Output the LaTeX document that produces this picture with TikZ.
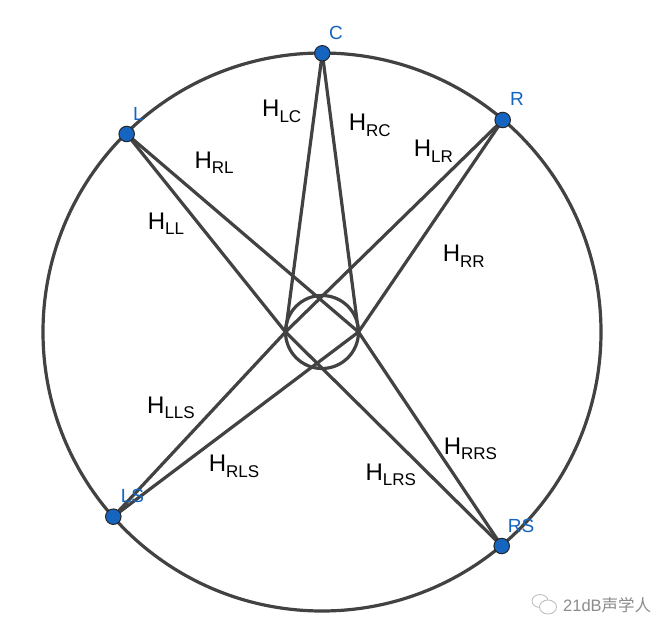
\documentclass[tikz,border=0pt]{standalone}
\usepackage{fontspec}
\setmainfont{Liberation Sans}
\newfontfamily\cjk{Noto Sans CJK SC}
\definecolor{ln}{RGB}{66,66,66}
\definecolor{ptc}{RGB}{21,101,192}
\definecolor{wm}{RGB}{140,140,140}
\pgfdeclarelayer{bg}
\pgfsetlayers{bg,main}
\newcommand\Hsub[1]{H\raisebox{-5.5pt}{\fontsize{17}{17}\selectfont #1}}
\begin{document}
\begin{tikzpicture}[x=1pt,y=-1pt,
  spk/.style={circle,fill=ptc,draw=black!85,line width=1pt,minimum size=15.5pt,inner sep=0pt},
  lab/.style={text=ptc,font=\fontsize{19}{19}\selectfont,anchor=base west,inner sep=0pt},
  hlab/.style={anchor=base west,inner sep=0pt,font=\fontsize{24}{24}\selectfont},
  wire/.style={draw=ln,line width=3.2pt}]
\useasboundingbox (0,0) rectangle (672,636);
\begin{pgfonlayer}{bg}
\fill[white] (0,0) rectangle (672,636);
\end{pgfonlayer}
\coordinate (O) at (322,332);
\coordinate (EL) at (285.5,332);
\coordinate (ER) at (358.5,332);
\node[spk] (C) at (322.3,53.3) {};
\node[spk] (L) at (126.7,134) {};
\node[spk] (R) at (502.7,120) {};
\node[spk] (LS) at (113.3,516.7) {};
\node[spk] (RS) at (501.7,546) {};
\begin{pgfonlayer}{bg}
\draw[wire] (O) circle[radius=279];
\draw[wire] (O) circle[radius=36.5];
\foreach \s in {C,L,R,LS,RS}{
  \draw[wire] (\s.center) -- (EL);
  \draw[wire] (\s.center) -- (ER);
}
\end{pgfonlayer}
% speaker labels
\node[lab] (tC) at (329,39.3) {C};
\node[lab] (tL) at (133,120.7) {L};
\node[lab] (tR) at (510,105.7) {R};
\node[lab] (tLS) at (120.7,502.7) {LS};
\node[lab] (tRS) at (507.7,532.3) {RS};
% transfer function labels
\node[hlab] (hLC) at (262,116.7) {\Hsub{LC}};
\node[hlab] (hRC) at (348.6,130.7) {\Hsub{RC}};
\node[hlab] (hRL) at (194.3,168.3) {\Hsub{RL}};
\node[hlab] (hLR) at (413.6,156.7) {\Hsub{LR}};
\node[hlab] (hLL) at (147.6,229.3) {\Hsub{LL}};
\node[hlab] (hRR) at (442.6,261.7) {\Hsub{RR}};
\node[hlab] (hLLS) at (147,413.3) {\Hsub{LLS}};
\node[hlab] (hRLS) at (208.6,471.7) {\Hsub{RLS}};
\node[hlab] (hRRS) at (443.6,454.3) {\Hsub{RRS}};
\node[hlab] (hLRS) at (365.3,480) {\Hsub{LRS}};
% watermark
\draw[wm!60,line width=0.8pt] (540,601) ellipse[x radius=8,y radius=6.5];
\draw[wm!60,line width=0.8pt,fill=white] (548,607) ellipse[x radius=8.5,y radius=7];
\node[text=wm,anchor=west,inner sep=0pt,font=\fontsize{16.5}{16.5}\selectfont] (wmt) at (563,605) {21dB{\cjk 声学人}};
\end{tikzpicture}
\end{document}
